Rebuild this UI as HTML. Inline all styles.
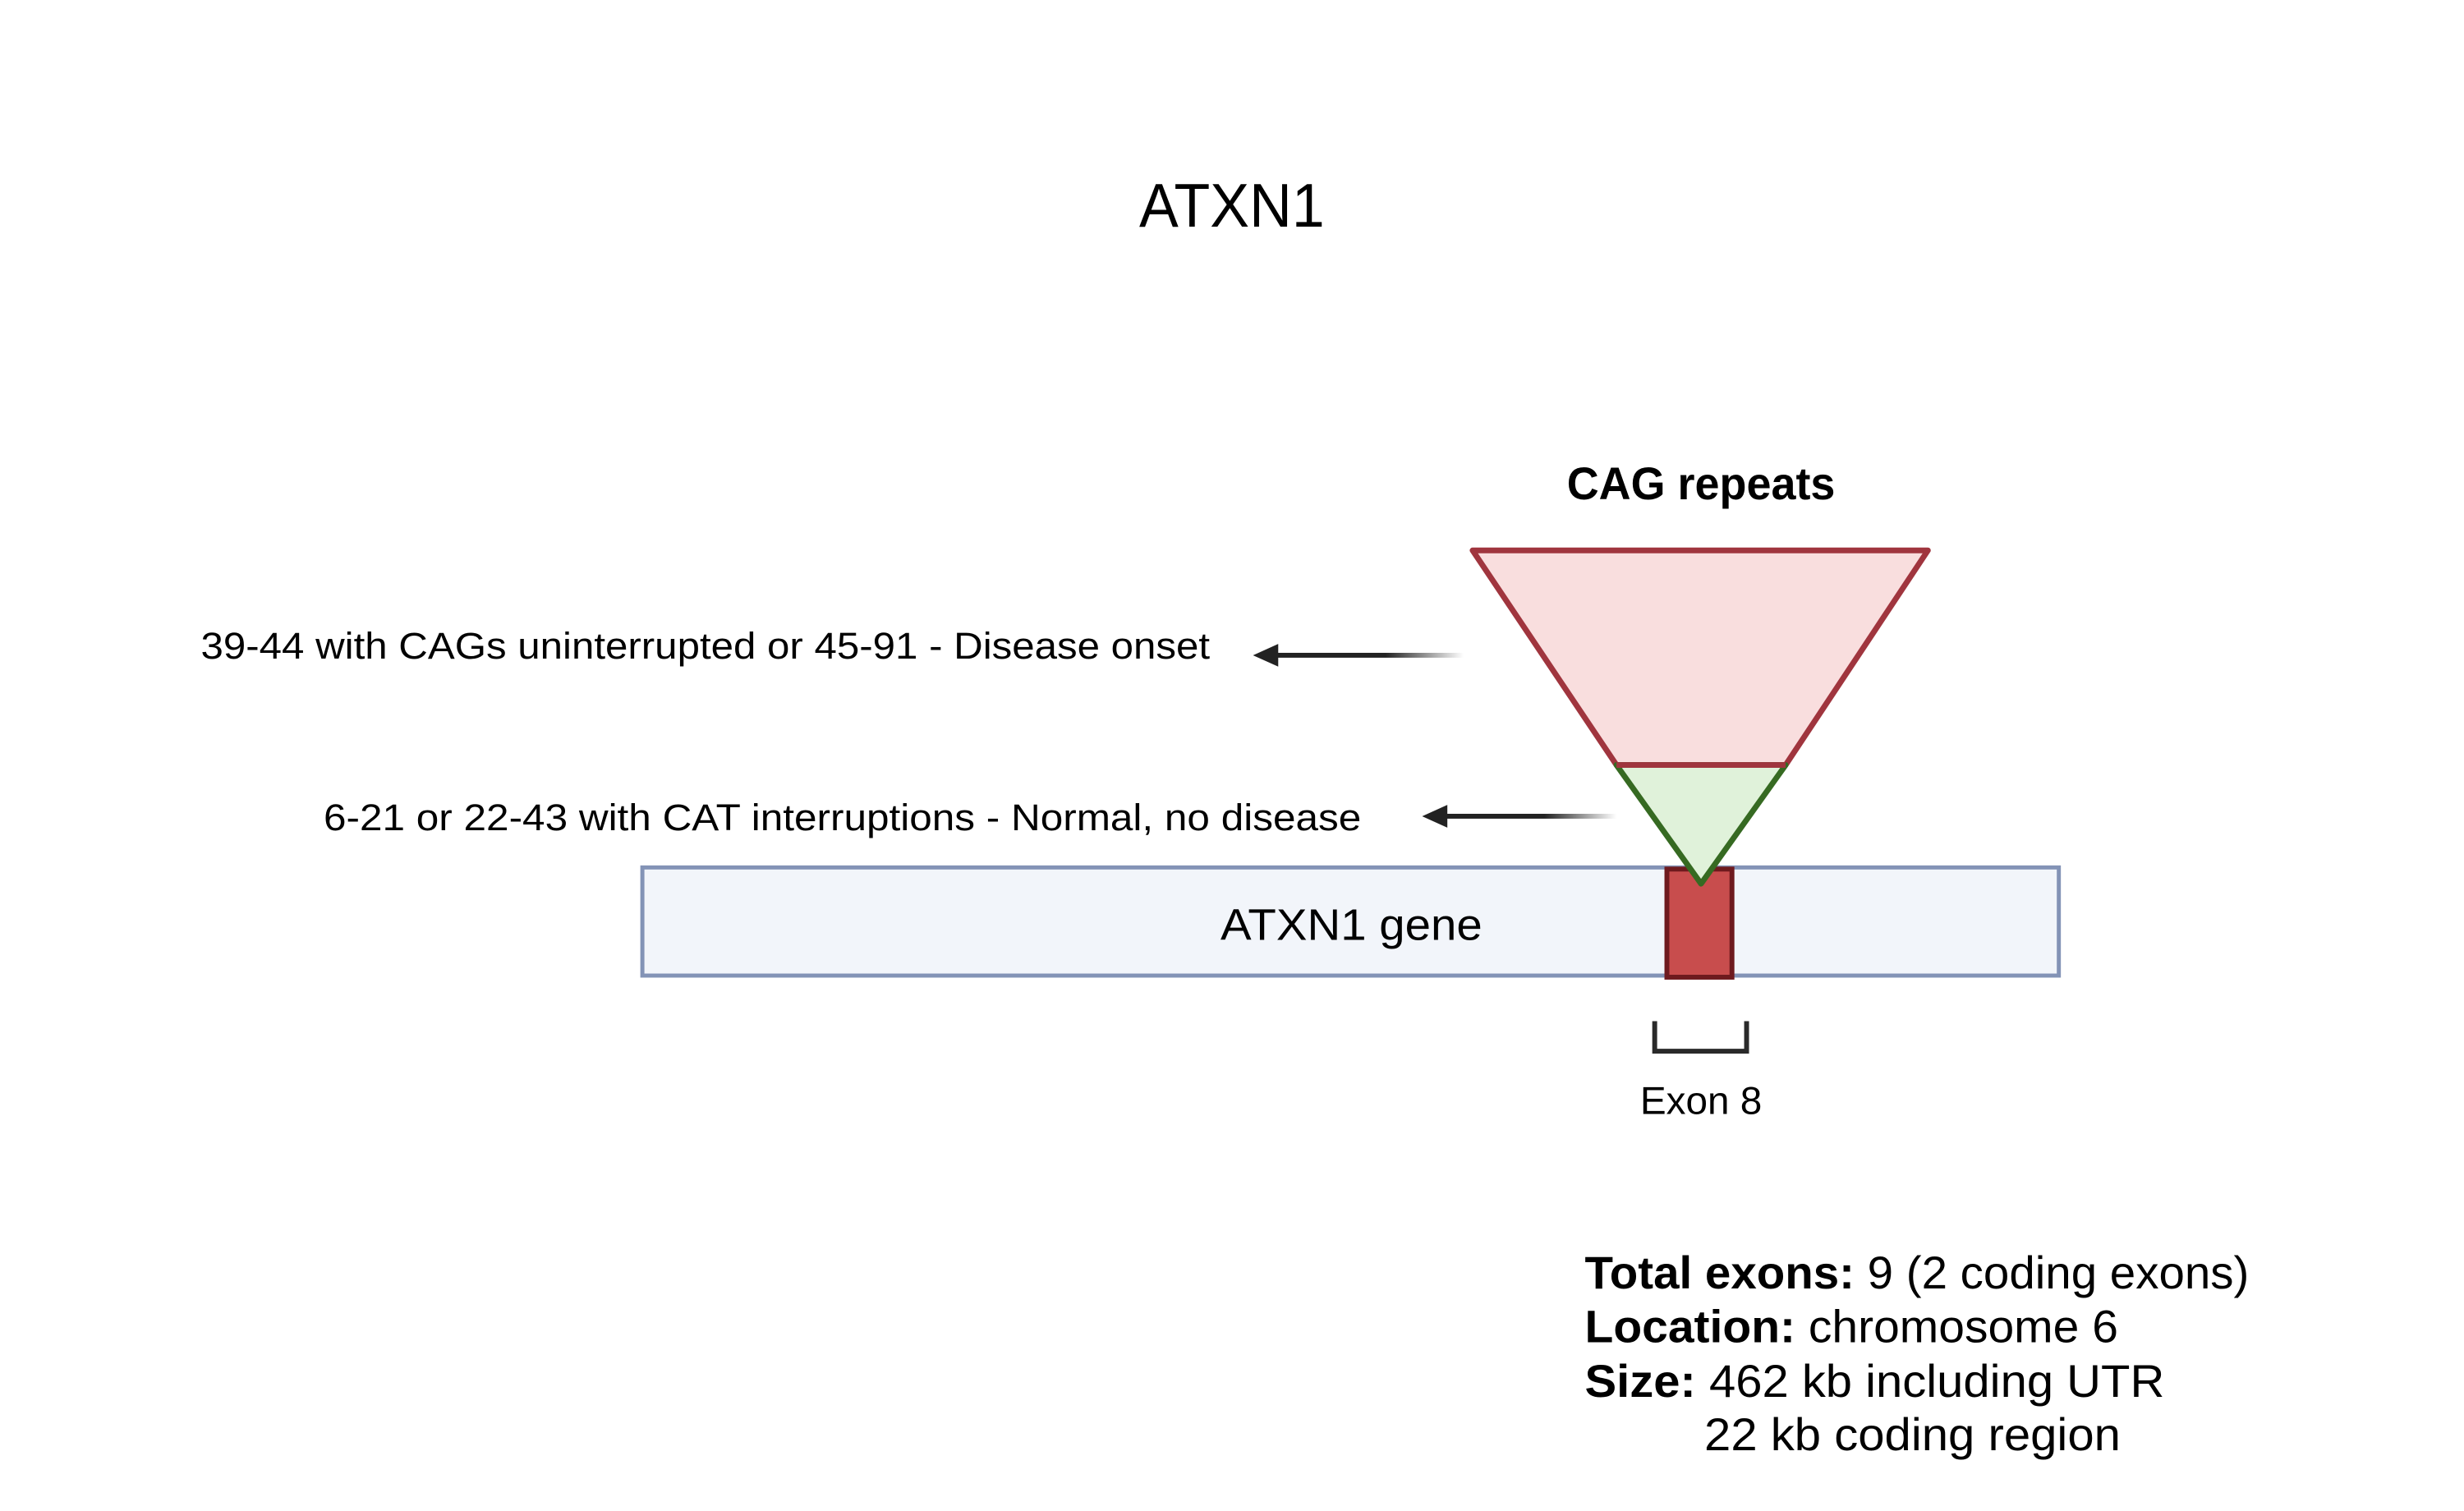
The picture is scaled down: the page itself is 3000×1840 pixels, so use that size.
<!DOCTYPE html>
<html><head><meta charset="utf-8"><style>
html,body{margin:0;padding:0;background:#fff;}
svg{display:block;font-family:"Liberation Sans",sans-serif;}
</style></head><body>
<svg width="3000" height="1840" viewBox="0 0 3000 1840">
<defs>
<linearGradient id="fade" x1="0" x2="1" y1="0" y2="0"><stop offset="0" stop-color="#222"/><stop offset="0.6" stop-color="#222"/><stop offset="1" stop-color="#222" stop-opacity="0"/></linearGradient>
</defs>
<g transform="scale(0.99)">
<text x="1515" y="279" font-size="76" text-anchor="middle" fill="#000" textLength="228" lengthAdjust="spacingAndGlyphs">ATXN1</text>
<text x="2092" y="614" font-size="56" font-weight="bold" text-anchor="middle" fill="#000" textLength="330" lengthAdjust="spacingAndGlyphs">CAG repeats</text>
<rect x="790" y="1067" width="1742" height="133" fill="#f2f5fa" stroke="#8393b6" stroke-width="5"/>
<text x="1662" y="1156" font-size="54" text-anchor="middle" fill="#000" textLength="322" lengthAdjust="spacingAndGlyphs">ATXN1 gene</text>
<rect x="2050" y="1069" width="80" height="133" fill="#c84d4d" stroke="#6e1a1e" stroke-width="6"/>
<polygon points="1811,677 2371,677 2196,941 1988,941" fill="#f9dede" stroke="#a0353e" stroke-width="7" stroke-linejoin="round"/>
<polygon points="1988,941 2196,941 2092,1087" fill="#e0f2da" stroke="#366a22" stroke-width="7" stroke-linejoin="round"/>
<line x1="1988" y1="941" x2="2196" y2="941" stroke="#a0353e" stroke-width="7"/>
<path d="M2035,1256 V1293 H2148 V1256" fill="none" stroke="#2a2a2a" stroke-width="6"/>
<text x="2092" y="1370" font-size="48" text-anchor="middle" fill="#000" textLength="150" lengthAdjust="spacingAndGlyphs">Exon 8</text>
<text x="247" y="810" font-size="46" fill="#000" textLength="1241" lengthAdjust="spacingAndGlyphs">39-44 with CAGs uninterrupted or 45-91 - Disease onset</text>
<rect x="1560" y="803" width="240" height="6" fill="url(#fade)"/>
<polygon points="1541,806 1572,792 1572,820" fill="#222"/>
<text x="398" y="1021" font-size="46" fill="#000" textLength="1276" lengthAdjust="spacingAndGlyphs">6-21 or 22-43 with CAT interruptions - Normal, no disease</text>
<rect x="1766" y="1001" width="222" height="6" fill="url(#fade)"/>
<polygon points="1749,1004 1780,990 1780,1018" fill="#222"/>
<g font-size="56" fill="#000">
<text x="1949" y="1585" textLength="817" lengthAdjust="spacingAndGlyphs"><tspan font-weight="bold">Total exons:</tspan> 9 (2 coding exons)</text>
<text x="1949" y="1651" textLength="656" lengthAdjust="spacingAndGlyphs"><tspan font-weight="bold">Location:</tspan> chromosome 6</text>
<text x="1949" y="1718" textLength="713" lengthAdjust="spacingAndGlyphs"><tspan font-weight="bold">Size:</tspan> 462 kb including  UTR</text>
<text x="2096" y="1784" textLength="512" lengthAdjust="spacingAndGlyphs">22 kb coding region</text>
</g>
</g>
</svg>
</body></html>
